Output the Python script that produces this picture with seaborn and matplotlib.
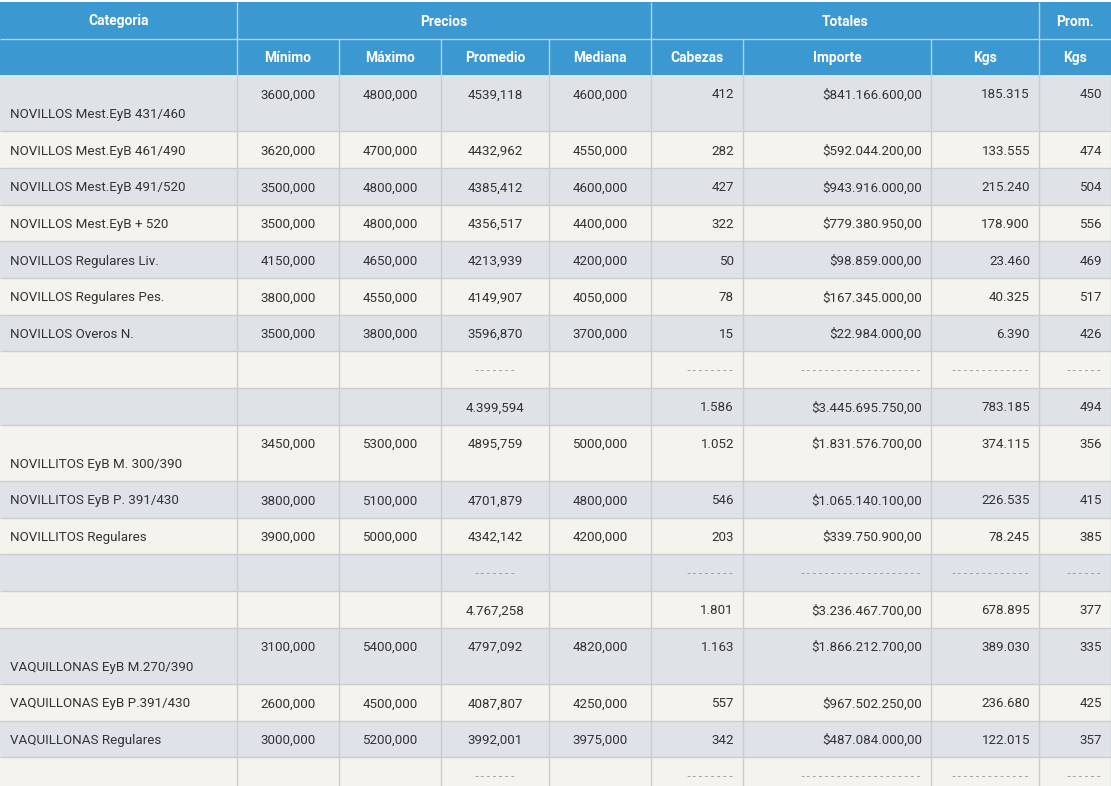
"""
Mercado de hacienda - tabla de precios por categoria.
Dibuja la tabla como figura con matplotlib/seaborn y la guarda en out.png.
"""
import matplotlib
matplotlib.use('Agg')
import matplotlib.pyplot as plt
import seaborn as sns

sns.set_theme(style="white")
plt.rcParams['font.family'] = ['Roboto', 'DejaVu Sans']

# Datos de la tabla (tipo: g = primera fila del grupo, n = normal, sep = guiones, tot = subtotal)
tipo = ['g', 'n', 'n', 'n', 'n', 'n', 'n', 'sep', 'tot',
        'g', 'n', 'n', 'sep', 'tot',
        'g', 'n', 'n', 'sep']
categoria = ['NOVILLOS Mest.EyB 431/460', 'NOVILLOS Mest.EyB 461/490', 'NOVILLOS Mest.EyB 491/520',
             'NOVILLOS Mest.EyB + 520', 'NOVILLOS Regulares Liv.', 'NOVILLOS Regulares Pes.',
             'NOVILLOS Overos N.', '', '',
             'NOVILLITOS EyB M. 300/390', 'NOVILLITOS EyB P. 391/430', 'NOVILLITOS Regulares', '', '',
             'VAQUILLONAS EyB M.270/390', 'VAQUILLONAS EyB P.391/430', 'VAQUILLONAS Regulares', '']
minimo = ['3600,000', '3620,000', '3500,000', '3500,000', '4150,000', '3800,000', '3500,000', '', '',
          '3450,000', '3800,000', '3900,000', '', '',
          '3100,000', '2600,000', '3000,000', '']
maximo = ['4800,000', '4700,000', '4800,000', '4800,000', '4650,000', '4550,000', '3800,000', '', '',
          '5300,000', '5100,000', '5000,000', '', '',
          '5400,000', '4500,000', '5200,000', '']
promedio = ['4539,118', '4432,962', '4385,412', '4356,517', '4213,939', '4149,907', '3596,870',
            '-------', '4.399,594',
            '4895,759', '4701,879', '4342,142', '-------', '4.767,258',
            '4797,092', '4087,807', '3992,001', '-------']
mediana = ['4600,000', '4550,000', '4600,000', '4400,000', '4200,000', '4050,000', '3700,000', '', '',
           '5000,000', '4800,000', '4200,000', '', '',
           '4820,000', '4250,000', '3975,000', '']
cabezas = ['412', '282', '427', '322', '50', '78', '15', '--------', '1.586',
           '1.052', '546', '203', '--------', '1.801',
           '1.163', '557', '342', '--------']
importe = ['$841.166.600,00', '$592.044.200,00', '$943.916.000,00', '$779.380.950,00',
           '$98.859.000,00', '$167.345.000,00', '$22.984.000,00',
           '--------------------', '$3.445.695.750,00',
           '$1.831.576.700,00', '$1.065.140.100,00', '$339.750.900,00',
           '--------------------', '$3.236.467.700,00',
           '$1.866.212.700,00', '$967.502.250,00', '$487.084.000,00', '--------------------']
kgs = ['185.315', '133.555', '215.240', '178.900', '23.460', '40.325', '6.390',
       '-------------', '783.185',
       '374.115', '226.535', '78.245', '-------------', '678.895',
       '389.030', '236.680', '122.015', '-------------']
prom_kgs = ['450', '474', '504', '556', '469', '517', '426', '------', '494',
            '356', '415', '385', '------', '377',
            '335', '425', '357', '------']

grupos = ['Categoria', 'Precios', 'Totales', 'Prom.']
subtitulos = ['', 'Mínimo', 'Máximo', 'Promedio', 'Mediana', 'Cabezas', 'Importe', 'Kgs', 'Kgs']

# Layout (pixeles)
W, H = 1111, 786
col_edges = [0, 237, 339, 441, 549, 651, 743, 931, 1039, 1111]
group_edges = [0, 237, 651, 1039, 1111]
align = ['left', 'center', 'center', 'center', 'center', 'right', 'right', 'right', 'right']
h_top, h_mid, h_head = 2, 39, 75
row_h = 36.67
tall_h = 56.3
dy = 1.5  # ajuste vertical del texto

HEAD = '#3c98d0'
HEAD_LINE = '#a9d5f0'
GRAY = '#dfe3e7'
CREAM = '#f4f3ee'
GRID = '#c9ced3'
TXT = '#333333'
DASH = '#8a8a8a'

fig = plt.figure(figsize=(W / 100, H / 100), dpi=100)
ax = fig.add_axes([0, 0, 1, 1])
ax.set_xlim(0, W)
ax.set_ylim(H, 0)
ax.axis('off')

# alturas de filas
heights = [tall_h if t == 'g' else row_h for t in tipo]
tops = []
y = h_head
for hh in heights:
    tops.append(y)
    y += hh
centers = [t + hh / 2 for t, hh in zip(tops, heights)]
bg = [GRAY if i % 2 == 0 else CREAM for i in range(len(tipo))]

# fondo de filas y encabezado
ax.barh(centers, W, height=heights, left=0, color=bg, edgecolor='none')
ax.barh([(h_top + h_head) / 2], W, height=h_head - h_top, left=0, color=HEAD, edgecolor='none')

# lineas de la grilla
ax.hlines([t + hh for t, hh in zip(tops, heights)], 0, W, color=GRID, lw=1)
ax.vlines(col_edges[1:-1], h_head, H, color=GRID, lw=1)
ax.vlines([W - 0.5], h_head, H, color=GRID, lw=1)
ax.hlines([h_mid], 0, W, color=HEAD_LINE, lw=1)
ax.vlines(group_edges[1:-1], h_top, h_mid, color=HEAD_LINE, lw=1)
ax.vlines(col_edges[1:-1], h_mid, h_head, color=HEAD_LINE, lw=1)

# texto del encabezado
fs = 9.6
for name, a, b in zip(grupos, group_edges[:-1], group_edges[1:]):
    ax.text((a + b) / 2, (h_top + h_mid) / 2 + 1, name, ha='center', va='center',
            color='white', fontsize=9.9, fontweight='bold')
for name, a, b in zip(subtitulos, col_edges[:-1], col_edges[1:]):
    ax.text((a + b) / 2, (h_mid + h_head) / 2 + 1, name, ha='center', va='center',
            color='white', fontsize=9.9, fontweight='bold')

# cuerpo
columnas = [categoria, minimo, maximo, promedio, mediana, cabezas, importe, kgs, prom_kgs]
pad = 9
for j, col in enumerate(columnas):
    a, b = col_edges[j], col_edges[j + 1]
    if align[j] == 'left':
        x = a + 10
    elif align[j] == 'right':
        x = b - pad
    else:
        x = (a + b) / 2
    for i, val in enumerate(col):
        if not val:
            continue
        if tipo[i] == 'g':
            yy = tops[i] + heights[i] - row_h / 2 if j == 0 else tops[i] + row_h / 2
        else:
            yy = centers[i]
        if tipo[i] == 'sep':
            # guiones: fuente monoespaciada para que se vean como linea punteada
            ax.text(x, yy + 0.5, val, ha=align[j], va='center', color=DASH,
                    fontsize=7.4, family='Liberation Mono')
        else:
            ax.text(x, yy + dy, val, ha=align[j], va='center', color=TXT, fontsize=fs)

fig.savefig('out.png', dpi=100)
plt.close(fig)
